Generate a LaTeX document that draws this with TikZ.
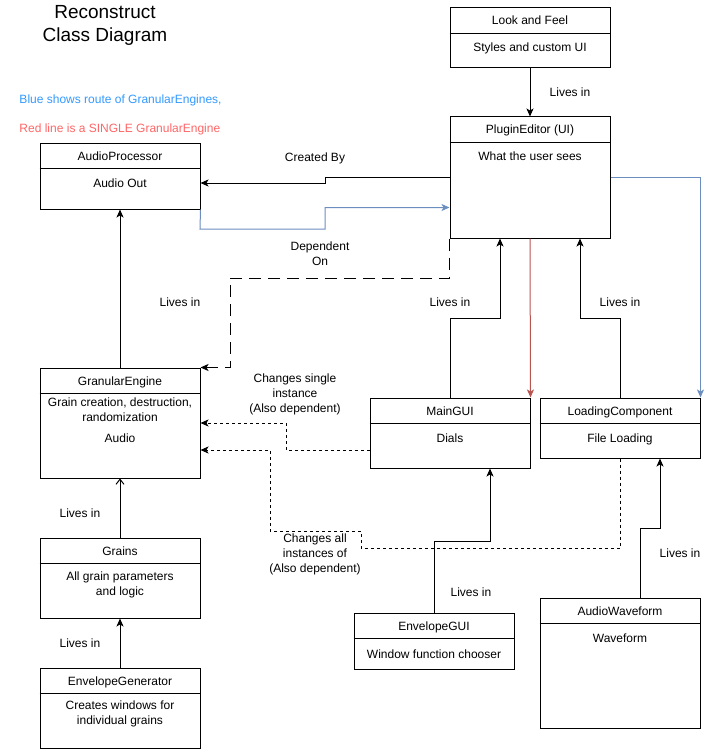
\documentclass[tikz,border=0pt]{standalone}
\usepackage{fontspec}
\setmainfont{Liberation Sans}
\usetikzlibrary{arrows.meta,positioning}
\definecolor{routeblue}{HTML}{6C8EBF}
\definecolor{singlered}{HTML}{B85450}
\definecolor{noteblue}{HTML}{3399FF}
\definecolor{notered}{HTML}{FF6666}
\tikzset{
  classbox/.style={draw, rectangle, minimum width=160pt, inner sep=0pt},
  txt/.style={font=\fontsize{12}{15}\selectfont, inner sep=0pt, text height=11pt, text depth=2pt},
  mtxt/.style={font=\fontsize{12}{15}\selectfont, align=center, inner sep=0pt},
  arr/.style={-{Stealth[length=8pt,width=7pt,inset=2pt]}},
  openarr/.style={-{Straight Barb[length=5pt,width=8pt]}},
  longdash/.style={dash pattern=on 12pt off 7pt},
  shortdash/.style={dash pattern=on 3pt off 3pt},
}
\begin{document}
\begin{tikzpicture}[x=1pt,y=-1pt,line width=1pt]
\useasboundingbox (0,0) rectangle (711,749);
% title and notes
\node[mtxt, font=\fontsize{19}{23}\selectfont](title) at (105,25){Reconstruct\\Class Diagram};
\node[txt, anchor=west, text=noteblue](noteb) at (19,99){Blue shows route of GranularEngines,};
\node[txt, anchor=west, text=notered](noter) at (19,128){Red line is a SINGLE GranularEngine};
% classes
\node[classbox, minimum height=66pt](ap) at (120,176){};
\node[classbox, minimum height=60pt](lf) at (530,38){};
\node[classbox, minimum height=121pt](pe) at (530,177.5){};
\node[classbox, minimum height=110pt](ge) at (120,423){};
\node[classbox, minimum height=80pt](gr) at (120,578){};
\node[classbox, minimum height=80pt](eg) at (120,708){};
\node[classbox, minimum height=70pt](mg) at (450,433){};
\node[classbox, minimum height=60pt](lc) at (620,428){};
\node[classbox, minimum height=56pt](eu) at (434,641){};
\node[classbox, minimum height=130pt](aw) at (620,663){};
\foreach \c in {ap,lf,pe,ge,gr,eg,mg,lc,eu,aw}
  \draw ([yshift=-26pt]\c.north west) -- ([yshift=-26pt]\c.north east);
% headers
\node[txt](apH) at ([yshift=-13pt]ap.north){AudioProcessor};
\node[txt](lfH) at ([yshift=-13pt]lf.north){Look and Feel};
\node[txt](peH) at ([yshift=-13pt]pe.north){PluginEditor (UI)};
\node[txt](geH) at ([yshift=-13pt]ge.north){GranularEngine};
\node[txt](grH) at ([yshift=-13pt]gr.north){Grains};
\node[txt](egH) at ([yshift=-13pt]eg.north){EnvelopeGenerator};
\node[txt](mgH) at ([yshift=-13pt]mg.north){MainGUI};
\node[txt](lcH) at ([yshift=-13pt]lc.north){LoadingComponent};
\node[txt](euH) at ([yshift=-13pt]eu.north){EnvelopeGUI};
\node[txt](awH) at ([yshift=-13pt]aw.north){AudioWaveform};
% bodies
\node[txt](apB) at ([yshift=-40pt]ap.north){Audio Out};
\node[txt](lfB) at ([yshift=-40pt]lf.north){Styles and custom UI};
\node[txt](peB) at ([yshift=-39pt]pe.north){What the user sees};
\node[mtxt](geB) at ([yshift=-42.5pt]ge.north){Grain creation, destruction,\\randomization};
\node[txt](geA) at ([yshift=-70pt]ge.north){Audio};
\node[mtxt](grB) at ([yshift=-47.5pt]gr.north){All grain parameters\\and logic};
\node[mtxt](egB) at ([yshift=-46.5pt]eg.north){Creates windows for\\individual grains};
\node[txt](mgB) at ([yshift=-40pt]mg.north){Dials};
\node[txt](lcB) at ([yshift=-40pt]lc.north){File Loading};
\node[txt](euB) at ([yshift=-41pt]eu.north){Window function chooser};
\node[txt](awB) at ([yshift=-40pt]aw.north){Waveform};
% connectors
\draw[arr](lf)--(pe);
\draw[arr](pe.west)--(325,177.5)--(325,183)--([yshift=-7pt]ap.east);
\draw[arr,routeblue](ap.south east)--(200,229)--(325,229)|-([yshift=-30pt]pe.west);
\draw[arr,routeblue](pe.east)-|(lc.north east);
\draw[arr,singlered](pe.south)--(mg.north east);
\draw[arr](mg.north)|-(500,318)--([xshift=-30pt]pe.south);
\draw[arr](lc.north)|-(580,318)--([xshift=50pt]pe.south);
\draw[arr,longdash](pe.south west)|-(230,278)|-(ge.north east);
\draw[arr,shortdash]([yshift=-17pt]mg.west)-|(286,423)--(ge.east);
\draw[arr,shortdash](lc.south)|-(361,548)|-(270,531)|-([yshift=-27pt]ge.east);
\draw[arr](ge)--(ap);
\draw[openarr](gr)--(ge);
\draw[arr](eg)--(gr);
\draw[arr](eu.north)|-(490,541)--([xshift=40pt]mg.south);
\draw[arr]([xshift=20pt]aw.north)|-(660,528)--([xshift=40pt]lc.south);
% labels
\node[txt](l1) at (570,92){Lives in};
\node[txt](l2) at (315,157){Created By};
\node[mtxt](l3) at (320,254){Dependent\\On};
\node[txt](l4) at (180,302){Lives in};
\node[txt](l5) at (450,302){Lives in};
\node[txt](l6) at (620,302){Lives in};
\node[mtxt](l7) at (295,394){Changes single\\instance\\(Also dependent)};
\node[mtxt](l8) at (315,554){Changes all\\instances of\\(Also dependent)};
\node[txt](l9) at (80,513){Lives in};
\node[txt](l10) at (80,643){Lives in};
\node[txt](l11) at (471,592){Lives in};
\node[txt](l12) at (680,553){Lives in};
\end{tikzpicture}
\end{document}
